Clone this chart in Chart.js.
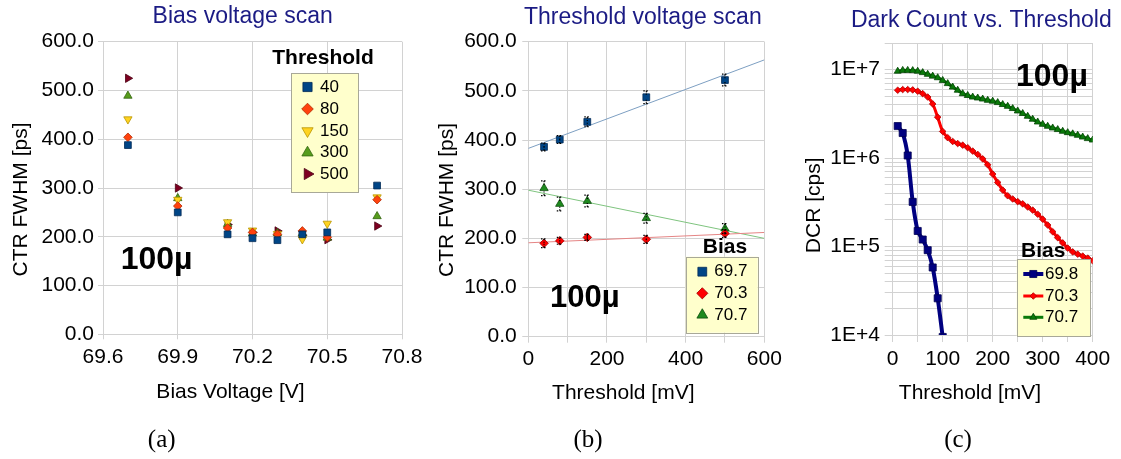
<!DOCTYPE html>
<html>
<head>
<meta charset="utf-8">
<script src="https://cdn.jsdelivr.net/npm/chart.js@4.4.1/dist/chart.umd.min.js"></script>
<style>
  html, body { margin: 0; padding: 0; background: #fff; }
  body { width: 1121px; height: 459px; position: relative; overflow: hidden; }
  canvas { position: absolute; top: 0; }
</style>
</head>
<body>
<canvas id="biasChart" width="440" height="459" style="left:0px"></canvas>
<canvas id="thrChart" width="380" height="459" style="left:420px"></canvas>
<canvas id="dcrChart" width="351" height="459" style="left:770px"></canvas>
<script>
// ---------------- data: (a) bias voltage scan ----------------
const biasVoltages = [69.7, 69.9, 70.1, 70.2, 70.3, 70.4, 70.5, 70.7];
const thresholdLabels = ["40", "80", "150", "300", "500"];
const ctrTh40  = [388, 250, 205, 197, 193, 205, 209, 305];
const ctrTh80  = [404, 263, 218, 209, 205, 212, 199, 276];
const ctrTh150 = [441, 276, 230, 213, 206, 195, 227, 281];
const ctrTh300 = [489, 279, 226, 207, 207, 207, 198, 242];
const ctrTh500 = [525, 300, 225, 209, 212, 203, 194, 222];
const biasTicks = [69.6, 69.9, 70.2, 70.5, 70.8];
const biasTickLabels = ["69.6", "69.9", "70.2", "70.5", "70.8"];
const ctrTicks = [0, 100, 200, 300, 400, 500, 600];
const ctrTickLabels = ["0.0", "100.0", "200.0", "300.0", "400.0", "500.0", "600.0"];

// ---------------- data: (b) threshold voltage scan ----------------
const thrValues = [40, 80, 150, 300, 500];
const biasLabels = ["69.7", "70.3", "70.7"];
const ctrBias697 = [386, 401, 437, 487, 522];
const ctrBias703 = [190, 195, 202, 198, 210];
const ctrBias707 = [302, 270, 276, 241, 220];
const errBias697 = [8, 8, 10, 13, 12];
const errBias703 = [9, 7, 6, 8, 8];
const errBias707 = [15, 14, 12, 10, 10];
// fitted trend lines, read at both ends of the axis
const trendX = [0, 600];
const trend697 = [383, 563];
const trend703 = [191, 212];
const trend707 = [298, 200];
const thrTicks = [0, 100, 200, 300, 400, 500, 600];
const thrTickLabels = ["0", "", "200", "", "400", "", "600"];

// ---------------- data: (c) dark count vs threshold ----------------
const dcrBiasLabels = ["69.8", "70.3", "70.7"];
const dcrThr698 = [10, 20, 30, 40, 50, 60, 70, 80, 90, 100];
const dcr698 = [2.3e6, 1.92e6, 1.07e6, 3.2e5, 1.5e5, 1.2e5, 9.1e4, 5.8e4, 2.6e4, 9.5e3];
const dcrThr = [10, 20, 30, 40, 50, 60, 70, 80, 90, 100, 110, 120, 130, 140, 150, 160, 170, 180, 190, 200,
                210, 220, 230, 240, 250, 260, 270, 280, 290, 300, 310, 320, 330, 340, 350, 360, 370, 380, 390, 400];
const dcr703 = [5.85e6, 5.95e6, 5.95e6, 5.9e6, 5.7e6, 5.35e6, 4.9e6, 4.1e6, 2.9e6, 2.0e6,
                1.7e6, 1.54e6, 1.46e6, 1.4e6, 1.31e6, 1.2e6, 1.1e6, 9.8e5, 8.4e5, 6.6e5,
                5.3e5, 4.35e5, 3.75e5, 3.45e5, 3.22e5, 3.04e5, 2.8e5, 2.58e5, 2.32e5, 2.04e5,
                1.75e5, 1.47e5, 1.26e5, 1.1e5, 9.6e4, 8.7e4, 8.2e4, 7.8e4, 7.4e4, 6.9e4];
const dcr707 = [9.6e6, 9.8e6, 9.8e6, 9.75e6, 9.6e6, 9.25e6, 8.85e6, 8.45e6, 8.1e6, 7.55e6,
                6.95e6, 6.35e6, 5.85e6, 5.35e6, 5.1e6, 4.9e6, 4.78e6, 4.65e6, 4.5e6, 4.4e6,
                4.24e6, 4.03e6, 3.85e6, 3.63e6, 3.41e6, 3.19e6, 2.97e6, 2.75e6, 2.56e6, 2.41e6,
                2.29e6, 2.19e6, 2.1e6, 2.01e6, 1.94e6, 1.88e6, 1.81e6, 1.73e6, 1.66e6, 1.6e6];
const dcrXTicks = [0, 50, 100, 150, 200, 250, 300, 350, 400];
const dcrXTickLabels = ["0", "", "100", "", "200", "", "300", "", "400"];
const dcrDecades = [1e4, 1e5, 1e6, 1e7];
const dcrDecadeLabels = ["1E+4", "1E+5", "1E+6", "1E+7"];
const dcrMax = 2e7;

// ---------------- common look ----------------
const FONT = "'Liberation Sans', Arial, sans-serif";
const NAVY = "#1b1b84";
const GRID = "#d2d2d2";
Chart.defaults.font.family = FONT;
Chart.defaults.color = "#000";

const pairs = (xs, ys) => xs.map((x, i) => ({ x: x, y: ys[i] }));

// force the axis box size so the plot areas sit where the figure has them
function fixSize(size, horizontal) {
    return function (scale) {
        if (horizontal) scale.height = size; else scale.width = size;
        scale.paddingLeft = 0;
        scale.paddingRight = 0;
        scale.paddingTop = 0;
        scale.paddingBottom = 0;
    };
}

function axis(opts) {
    return {
        type: opts.type || "linear",
        min: opts.min,
        max: opts.max,
        afterFit: fixSize(opts.size, opts.horizontal),
        afterBuildTicks: opts.buildTicks,
        grid: { color: GRID, tickColor: GRID, tickLength: opts.tickLength, lineWidth: 1 },
        border: { color: GRID },
        ticks: {
            autoSkip: false,
            maxRotation: 0,
            padding: opts.padding,
            font: { size: 21, lineHeight: 1.2 },
            color: "#000",
            callback: opts.label
        }
    };
}

// free text (titles, axis names, captions) in page coordinates
function textPlugin(ox, items) {
    return {
        id: "figText",
        afterDraw(chart) {
            const ctx = chart.ctx;
            items.forEach(it => {
                ctx.save();
                ctx.font = it.font;
                ctx.fillStyle = it.color || "#000";
                ctx.textAlign = it.align || "left";
                ctx.textBaseline = it.baseline || "alphabetic";
                ctx.translate(it.x - ox, it.y);
                if (it.rot) ctx.rotate(it.rot);
                ctx.fillText(it.text, 0, 0);
                ctx.restore();
            });
        }
    };
}

// yellow legend box drawn inside the plot
function legendPlugin(ox, spec) {
    return {
        id: "boxLegend",
        afterDraw(chart) {
            const ctx = chart.ctx;
            ctx.save();
            ctx.font = "bold 21px " + FONT;
            ctx.fillStyle = "#000";
            ctx.textAlign = "center";
            ctx.textBaseline = "alphabetic";
            ctx.fillText(spec.title, spec.titleX - ox, spec.titleY);
            const [bx, by, bw, bh] = spec.box;
            ctx.fillStyle = "#ffffcc";
            ctx.strokeStyle = "#a8a898";
            ctx.lineWidth = 1;
            ctx.fillRect(bx - ox, by, bw, bh);
            ctx.strokeRect(Math.round(bx - ox) + 0.5, Math.round(by) + 0.5, Math.round(bw), Math.round(bh));
            spec.datasets.forEach((di, i) => {
                const ds = chart.data.datasets[di];
                const y = spec.rows[i];
                if (spec.line) {
                    ctx.strokeStyle = ds.borderColor;
                    ctx.lineWidth = ds.borderWidth;
                    ctx.beginPath();
                    ctx.moveTo(spec.line[0] - ox, y);
                    ctx.lineTo(spec.line[1] - ox, y);
                    ctx.stroke();
                }
                ctx.fillStyle = ds.pointBackgroundColor;
                ctx.strokeStyle = ds.pointBorderColor;
                ctx.lineWidth = ds.pointBorderWidth;
                Chart.helpers.drawPoint(ctx, {
                    pointStyle: ds.pointStyle,
                    rotation: ds.pointRotation || 0,
                    radius: ds.pointRadius * (spec.grow || 1),
                    borderWidth: ds.pointBorderWidth
                }, spec.markerX - ox, y);
                ctx.fillStyle = "#000";
                ctx.font = "17px " + FONT;
                ctx.textAlign = "left";
                ctx.textBaseline = "middle";
                ctx.fillText(ds.label, spec.textX - ox, y);
            });
            ctx.restore();
        }
    };
}

// dotted error caps for panel (b)
const errorBarPlugin = {
    id: "errorBars",
    afterDatasetsDraw(chart) {
        const ctx = chart.ctx;
        const xs = chart.scales.x, ys = chart.scales.y;
        chart.data.datasets.forEach(ds => {
            if (!ds.errorBars) return;
            ds.data.forEach((p, i) => {
                const e = ds.errorBars[i];
                const px = xs.getPixelForValue(p.x);
                const top = ys.getPixelForValue(p.y + e);
                const bot = ys.getPixelForValue(p.y - e);
                ctx.save();
                ctx.strokeStyle = "#000";
                ctx.lineWidth = 1.2;
                ctx.setLineDash([1.5, 1.5]);
                ctx.beginPath();
                ctx.moveTo(px, top); ctx.lineTo(px, top + 4);
                ctx.moveTo(px, bot); ctx.lineTo(px, bot - 4);
                ctx.moveTo(px - 3, top); ctx.lineTo(px + 3, top);
                ctx.moveTo(px - 3, bot); ctx.lineTo(px + 3, bot);
                ctx.stroke();
                ctx.restore();
            });
        });
    }
};

function marker(label, xs, ys, style, color, border, radius, rotation) {
    return {
        label: label,
        data: pairs(xs, ys),
        pointStyle: style,
        pointRotation: rotation || 0,
        pointRadius: radius,
        pointHoverRadius: radius,
        pointBackgroundColor: color,
        pointBorderColor: border,
        pointBorderWidth: 0.8,
        backgroundColor: color,
        borderColor: border,
        showLine: false
    };
}

const baseOptions = (layoutPadding, scales) => ({
    responsive: false,
    animation: false,
    layout: { padding: layoutPadding },
    plugins: { legend: { display: false }, title: { display: false }, tooltip: { enabled: false } },
    scales: scales
});

// ---------------- (a) ----------------
new Chart(document.getElementById("biasChart"), {
    type: "scatter",
    data: {
        datasets: [
            marker(thresholdLabels[0], biasVoltages, ctrTh40, "rect", "#004586", "#002a55", 4.8),
            marker(thresholdLabels[1], biasVoltages, ctrTh80, "rectRot", "#ff420e", "#b02a00", 4.3),
            marker(thresholdLabels[2], biasVoltages, ctrTh150, "triangle", "#ffd320", "#b89400", 4.8, 180),
            marker(thresholdLabels[3], biasVoltages, ctrTh300, "triangle", "#579d1c", "#356510", 4.8),
            marker(thresholdLabels[4], biasVoltages, ctrTh500, "triangle", "#7e0021", "#4a0013", 4.8, 90)
        ]
    },
    options: baseOptions({ top: 41.7, left: 0, right: 38, bottom: 94.7 }, {
        x: axis({ min: 69.6, max: 70.8, size: 30, horizontal: true, tickLength: 5, padding: 5,
            buildTicks: s => { s.ticks = biasTicks.map(v => ({ value: v })); },
            label: (v, i) => biasTickLabels[i] }),
        y: axis({ min: 0, max: 600, size: 103, tickLength: 5, padding: 4,
            buildTicks: s => { s.ticks = ctrTicks.map(v => ({ value: v })); },
            label: (v, i) => ctrTickLabels[i] })
    }),
    plugins: [
        legendPlugin(0, { title: "Threshold", titleX: 323, titleY: 63.5, box: [291, 73, 67, 119], grow: 1.35,
            markerX: 307.5, textX: 320, rows: [87, 109, 131, 152.7, 174], datasets: [0, 1, 2, 3, 4] }),
        textPlugin(0, [
            { text: "Bias voltage scan", x: 242.7, y: 23, font: "23px " + FONT, color: NAVY, align: "center" },
            { text: "CTR FWHM [ps]", x: 27, y: 199.5, font: "21px " + FONT, align: "center", rot: -Math.PI / 2 },
            { text: "Bias Voltage [V]", x: 230.5, y: 398, font: "21px " + FONT, align: "center" },
            { text: "100\u00b5", x: 120.7, y: 269, font: "bold 32px " + FONT },
            { text: "(a)", x: 161.7, y: 447, font: "25px 'Liberation Serif', serif", align: "center" }
        ])
    ]
});

// ---------------- (b) ----------------
const trendLine = (ys, color) => ({
    data: pairs(trendX, ys),
    showLine: true,
    borderColor: color,
    borderWidth: 1,
    pointRadius: 0,
    pointHoverRadius: 0
});
const ds697 = marker(biasLabels[0], thrValues, ctrBias697, "rect", "#004586", "#002a55", 4.8);
ds697.errorBars = errBias697;
const ds703 = marker(biasLabels[1], thrValues, ctrBias703, "rectRot", "#ff0000", "#a00000", 4.3);
ds703.errorBars = errBias703;
const ds707 = marker(biasLabels[2], thrValues, ctrBias707, "triangle", "#1e8a1e", "#0b4d0b", 4.8);
ds707.errorBars = errBias707;

new Chart(document.getElementById("thrChart"), {
    type: "scatter",
    data: {
        datasets: [ds697, ds703, ds707,
            trendLine(trend697, "#7d9fc2"),
            trendLine(trend703, "#e58585"),
            trendLine(trend707, "#7fc47f")]
    },
    options: baseOptions({ top: 41.7, left: 0, right: 35.7, bottom: 92.3 }, {
        x: axis({ min: 0, max: 600, size: 30, horizontal: true, tickLength: 6, padding: 4,
            buildTicks: s => { s.ticks = thrTicks.map(v => ({ value: v })); },
            label: (v, i) => thrTickLabels[i] }),
        y: axis({ min: 0, max: 600, size: 108.3, tickLength: 6, padding: 5.6,
            buildTicks: s => { s.ticks = ctrTicks.map(v => ({ value: v })); },
            label: (v, i) => ctrTickLabels[i] })
    }),
    plugins: [
        errorBarPlugin,
        legendPlugin(420, { title: "Bias", titleX: 725, titleY: 252.5, box: [685.7, 256.7, 72, 76], grow: 1.3,
            markerX: 702.3, textX: 714.3, rows: [271.7, 293.3, 315], datasets: [0, 1, 2] }),
        textPlugin(420, [
            { text: "Threshold voltage scan", x: 642.8, y: 24, font: "23px " + FONT, color: NAVY, align: "center" },
            { text: "CTR FWHM [ps]", x: 453, y: 200, font: "21px " + FONT, align: "center", rot: -Math.PI / 2 },
            { text: "Threshold [mV]", x: 623.3, y: 399, font: "21px " + FONT, align: "center" },
            { text: "100\u00b5", x: 550, y: 307, font: "bold 31px " + FONT },
            { text: "(b)", x: 588, y: 447, font: "25px 'Liberation Serif', serif", align: "center" }
        ])
    ]
});

// ---------------- (c) ----------------
const dcrLine = (label, xs, ys, style, color, border, lw, radius) => ({
    label: label,
    data: pairs(xs, ys),
    showLine: true,
    tension: 0.3,
    borderColor: color,
    borderWidth: lw,
    pointStyle: style,
    pointRadius: radius,
    pointHoverRadius: radius,
    pointBackgroundColor: color,
    pointBorderColor: border,
    pointBorderWidth: 0.8
});

new Chart(document.getElementById("dcrChart"), {
    type: "scatter",
    data: {
        datasets: [
            dcrLine(dcrBiasLabels[0], dcrThr698, dcr698, "rect", "#000080", "#000050", 4, 5),
            dcrLine(dcrBiasLabels[1], dcrThr, dcr703, "rectRot", "#ff0000", "#b00000", 3, 3.3),
            dcrLine(dcrBiasLabels[2], dcrThr, dcr707, "triangle", "#0a7a0a", "#044404", 3, 4)
        ]
    },
    options: baseOptions({ top: 43, left: 0, right: 28.3, bottom: 94 }, {
        x: axis({ min: 0, max: 400, size: 30, horizontal: true, tickLength: 7, padding: 4.6,
            buildTicks: s => { s.ticks = dcrXTicks.map(v => ({ value: v })); },
            label: (v, i) => dcrXTickLabels[i] }),
        y: axis({ type: "logarithmic", min: dcrDecades[0], max: dcrMax, size: 122.7, tickLength: 8, padding: 4.7,
            buildTicks: s => {
                const t = [];
                dcrDecades.forEach(d => {
                    for (let m = 1; m <= 9; m++) {
                        if (d * m <= dcrMax) t.push({ value: d * m });
                    }
                });
                s.ticks = t;
            },
            label: v => {
                const k = dcrDecades.indexOf(v);
                return k >= 0 ? dcrDecadeLabels[k] : "";
            } })
    }),
    plugins: [
        legendPlugin(770, { title: "Bias", titleX: 1043.3, titleY: 256.7, box: [1016.7, 259, 73.3, 77],
            line: [1023.3, 1043.3], markerX: 1033.3, textX: 1045, rows: [274, 296, 317.3], datasets: [0, 1, 2] }),
        textPlugin(770, [
            { text: "Dark Count vs. Threshold", x: 981.3, y: 27, font: "23px " + FONT, color: NAVY, align: "center" },
            { text: "DCR [cps]", x: 820, y: 205.3, font: "21px " + FONT, align: "center", rot: -Math.PI / 2 },
            { text: "Threshold [mV]", x: 970, y: 399, font: "21px " + FONT, align: "center" },
            { text: "100\u00b5", x: 1016, y: 86, font: "bold 32px " + FONT },
            { text: "(c)", x: 958, y: 447, font: "25px 'Liberation Serif', serif", align: "center" }
        ])
    ]
});
</script>
</body>
</html>
